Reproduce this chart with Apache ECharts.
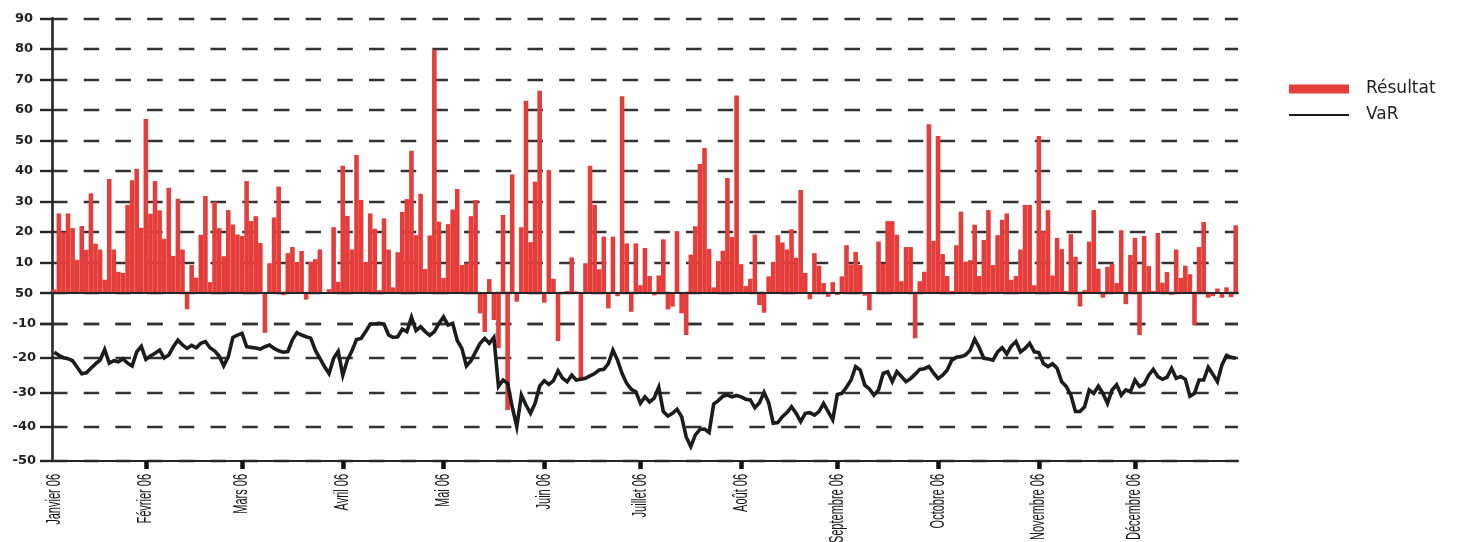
<!DOCTYPE html>
<html>
<head>
<meta charset="utf-8">
<title>Résultat et VaR 2006</title>
<script src="https://cdn.jsdelivr.net/npm/echarts@6/dist/echarts.min.js"></script>
<style>
  html, body { margin: 0; padding: 0; background: #ffffff; }
  #chart { width: 1459px; height: 542px; }
</style>
</head>
<body>
<div id="chart"></div>
<script>
// Month labels and number of trading days per month
const months = ['Janvier 06', 'Février 06', 'Mars 06', 'Avril 06', 'Mai 06', 'Juin 06',
  'Juillet 06', 'Août 06', 'Septembre 06', 'Octobre 06', 'Novembre 06', 'Décembre 06'];
const monthDays = [20, 21, 22, 22, 22, 21, 22, 21, 22, 22, 21, 23];

// Daily result (bars)
const resultat = [
  1.2, 26.1, 19.9, 26.1, 21.3, 10.9, 22, 14.2, 32.7, 16.2,
  14.3, 4.4, 37.4, 14.3, 7, 6.6, 28.9, 37, 40.7, 21.4,
  57, 26, 36.7, 27.1, 17.8, 34.5, 12.2, 30.9, 14.3, -5.3,
  9.2, 5.1, 19.1, 31.8, 3.6, 29.9, 21.3, 12.1, 27.2, 22.5,
  19.2, 18.7, 36.7, 23.6, 25.2, 16.4, -13, 9.8, 24.8, 34.9,
  -0.6, 13.1, 15.1, 10.2, 13.8, -2.1, 10.2, 11.1, 14.3, 0,
  1.3, 21.6, 3.7, 41.7, 25.3, 14.3, 45.2, 30.5, 10.2, 26.1,
  21.1, 1, 24.5, 14.3, 1.9, 13.4, 26.6, 30.8, 46.6, 19,
  32.5, 7.9, 18.9, 79.7, 23.4, 5, 22.6, 27.4, 34.1, 9.2,
  9.8, 25.2, 30.5, -6.6, -12.7, 4.6, -8.8, -18, 25.6, -38.3,
  38.9, -2.8, 21.6, 63, 16.7, 36.5, 66.3, -3.1, 40.3, 4.7,
  -15.7, 0, 0.7, 11.7, 0.6, -28.4, 9.8, 41.7, 28.9, 7.8,
  18.5, -5, 18.5, -1, 64.5, 16.3, -6.1, 16.3, 2.6, 14.8,
  5.6, -0.7, 5.8, 17.6, -5.3, -4.4, 20.3, -6.6, -13.7, 12.6,
  21.9, 42.3, 47.5, 14.5, 1.9, 10.5, 13.9, 37.7, 18.4, 64.7,
  9.5, 2.3, 4.7, 19.2, -3.9, -6.4, 5.5, 10.2, 19, 16.6,
  14.3, 20.9, 11.6, 33.8, 6.6, -2, 13.1, 9, 3.3, -1.2,
  3.6, -0.6, 5.5, 15.7, 9.4, 13.5, 9.2, -0.8, -5.6, 0.3,
  16.9, 9.6, 23.6, 23.6, 19.1, 3.9, 15.1, 15.1, -14.8, 3.9,
  7, 55.3, 17.1, 51.5, 12.8, 5.6, 0.7, 15.7, 26.7, 10.3,
  10.8, 22.4, 5.6, 17.4, 27.2, 9.2, 19, 24, 26.1, 4.4,
  5.6, 14.3, 28.9, 28.9, 2.6, 51.5, 20.3, 27.2, 5.8, 18.1,
  14.4, 0.7, 19.3, 11.9, -4.4, 1, 16.9, 27.2, 8, -1.5,
  8.6, 9.6, 3.3, 20.6, -3.6, 12.5, 18.1, -13.7, 18.7, 8.9,
  0.7, 19.7, 3.4, 6.9, -0.5, 14.3, 5, 9, 6.2, -10.4,
  15.1, 23.3, -1.5, -1, 1.5, -1.5, 1.9, -1.3, 22.2
];

// Daily value at risk (line)
const varValues = [
  -18.3, -19.2, -19.9, -20.2, -20.8, -22.7, -24.6, -24.3, -23, -21.7,
  -20.6, -17.5, -21.5, -20.8, -21.1, -20.2, -21.5, -22.3, -18.2, -16.6,
  -20.4, -19.4, -18.6, -17.7, -20, -19.1, -16.7, -14.8, -16.2, -17.2,
  -16.3, -17, -15.7, -15.2, -17, -17.9, -19.4, -22.3, -19.6, -14,
  -13.3, -12.8, -16.7, -16.9, -17.1, -17.4, -16.7, -16.2, -17.2, -17.9,
  -18.3, -18.1, -14.7, -12.6, -13.3, -13.8, -14.2, -17.7, -20.1, -22.5,
  -24.5, -20.1, -18.1, -25, -20.6, -17.9, -14.6, -14.3, -12.3, -10.1,
  -10.1, -9.9, -10.1, -13.3, -14, -13.8, -11.6, -12.3, -8.1, -12,
  -10.9, -12.3, -13.4, -12.3, -9.9, -8, -10.4, -9.9, -14.9, -17.2,
  -22.3, -20.8, -18.2, -15.7, -14.3, -15.7, -14, -28.3, -26.4, -27.4,
  -34.2, -40, -30.8, -33.7, -36.1, -33.2, -28.2, -26.6, -27.7, -26.6,
  -23.7, -25.9, -26.9, -25, -26.4, -26.2, -25.9, -25.2, -24.5, -23.5,
  -23.3, -21.6, -17.7, -20.6, -24.5, -27.4, -29.1, -29.8, -33.2, -31.3,
  -32.8, -31.7, -28.5, -35.6, -36.9, -36.1, -34.9, -37.1, -43, -45.8,
  -42.4, -40.8, -40.7, -41.7, -33.4, -32.4, -31.1, -30.8, -31.3, -30.9,
  -31.3, -32, -32.2, -34.5, -33, -30, -33, -39, -38.8, -37.1,
  -35.9, -34.2, -36.1, -38.5, -36.1, -35.9, -36.6, -35.6, -33.2, -35.6,
  -38, -30.6, -30.3, -28.5, -26.4, -22.5, -23.5, -27.9, -29, -30.8,
  -29.3, -24.5, -24, -26.9, -24, -25.4, -26.9, -26, -24.7, -23.3,
  -23.1, -22.5, -24.3, -26, -25, -23.5, -20.6, -19.8, -19.6, -19.1,
  -17.7, -14.5, -17, -20.1, -20.3, -20.6, -18.2, -17, -18.8, -16.5,
  -15.2, -18.2, -17.2, -15.7, -18.2, -18.4, -21.6, -22.5, -21.7, -23,
  -26.9, -28.3, -30.8, -35.6, -35.6, -34.2, -29.3, -30.3, -28.2, -30.3,
  -33.2, -29.3, -27.8, -30.8, -29.3, -29.8, -26.4, -28.3, -27.6, -25,
  -23.3, -25.4, -26.2, -25.6, -23, -25.9, -25.4, -26.2, -31.1, -30.3,
  -26.4, -26.4, -22.7, -24.7, -26.9, -22, -19.2, -19.8, -20.1
];

// Tick label texts: upper scale (0..90) and lower scale (-50..-10)
const upperTickLabels = ['50', '10', '20', '30', '40', '50', '60', '70', '80', '90'];
const lowerTickLabels = ['-50', '-40', '-30', '-20', '-10'];

// One category per trading day; remember the first day of every month
const categories = [];
const monthStartList = [];
months.forEach((m, mi) => {
  monthStartList.push(categories.length);
  for (let d = 1; d <= monthDays[mi]; d++) categories.push(m + ' · ' + d);
});
const monthStart = new Set(monthStartList);

const INK = '#262626';
const LEFT = 52, RIGHT = 221;
const ZERO_TOP = 18.3, SPLIT_Y = 323.7, BOTTOM_Y = 461;
const H = 542;

const dash = { color: '#333', width: 2.4, type: [15.5, 16.2] };
const yLabelFont = { fontFamily: 'DejaVu Sans', fontWeight: 'bold', fontSize: 13, color: '#222' };

const chart = echarts.init(document.getElementById('chart'), null, { renderer: 'canvas' });
chart.setOption({
  animation: false,
  backgroundColor: '#ffffff',
  grid: [
    { left: LEFT, right: RIGHT, top: ZERO_TOP, bottom: H - SPLIT_Y, outerBoundsMode: 'none' },
    { left: LEFT, right: RIGHT, top: SPLIT_Y, bottom: H - BOTTOM_Y, outerBoundsMode: 'none' }
  ],
  legend: {
    orient: 'vertical',
    left: 1283,
    top: 75,
    itemWidth: 60,
    itemHeight: 9,
    itemGap: 8,
    data: [
      { name: 'Résultat', icon: 'rect' },
      { name: 'VaR', itemStyle: { opacity: 0 } }
    ],
    textStyle: { fontFamily: 'DejaVu Sans', fontSize: 17, color: '#222', lineHeight: 18, padding: [0, 0, 0, 12] }
  },
  xAxis: [
    {
      gridIndex: 0, type: 'category', data: categories, boundaryGap: true, z: 5,
      axisLine: { onZero: true, lineStyle: { color: INK, width: 2.2 } },
      axisTick: { show: false }, axisLabel: { show: false }, splitLine: { show: false }
    },
    {
      gridIndex: 1, type: 'category', data: categories, boundaryGap: true, position: 'bottom', z: 5,
      axisLine: { onZero: false, lineStyle: { color: INK, width: 2.2 } },
      axisTick: {
        show: true, alignWithLabel: true, length: 8,
        interval: (i) => i > 0 && monthStart.has(i),
        lineStyle: { color: '#111', width: 4.5 }
      },
      axisLabel: { show: false },
      splitLine: { show: false }
    }
  ],
  yAxis: [
    {
      gridIndex: 0, type: 'value', min: -10, max: 90, interval: 10,
      axisLine: { show: true, lineStyle: { color: INK, width: 2.6 } },
      axisTick: { show: true, length: 12, lineStyle: { color: INK, width: 2.4 } },
      axisLabel: Object.assign({
        margin: 19,
        formatter: (v) => v < 0 ? '' : upperTickLabels[Math.round(v / 10)]
      }, yLabelFont),
      splitLine: { show: true, lineStyle: dash }
    },
    {
      gridIndex: 1, type: 'value', min: -50, max: -10, interval: 10,
      axisLine: { show: true, lineStyle: { color: INK, width: 2.6 } },
      axisTick: { show: true, length: 12, lineStyle: { color: INK, width: 2.4 } },
      axisLabel: Object.assign({
        margin: 16,
        formatter: (v) => lowerTickLabels[Math.round((v + 50) / 10)]
      }, yLabelFont),
      splitLine: { show: true, lineStyle: dash }
    }
  ],
  series: [
    {
      name: 'Résultat', type: 'bar', xAxisIndex: 0, yAxisIndex: 0,
      data: resultat, barCategoryGap: '0%', clip: false, z: 2,
      itemStyle: { color: '#E43D3A' }
    },
    {
      name: 'VaR', type: 'line', xAxisIndex: 1, yAxisIndex: 1,
      data: varValues, symbol: 'none', clip: false, z: 3,
      itemStyle: { color: '#1c1c1c' },
      lineStyle: { color: '#1c1c1c', width: 3.6, join: 'miter' }
    }
  ]
});

// Month names under the bottom axis: tall, condensed lettering placed on each month tick
chart.setOption({
  graphic: monthStartList.map((idx, k) => ({
    type: 'text',
    x: chart.convertToPixel({ xAxisIndex: 1 }, idx),
    y: BOTTOM_Y + 13,
    rotation: Math.PI / 2,
    scaleY: 1.8,
    silent: true,
    style: {
      text: months[k],
      fontFamily: "'Liberation Sans', Arial, sans-serif",
      fontSize: 11,
      fill: '#151515',
      align: 'right',
      verticalAlign: 'middle'
    }
  }))
});
</script>
</body>
</html>
